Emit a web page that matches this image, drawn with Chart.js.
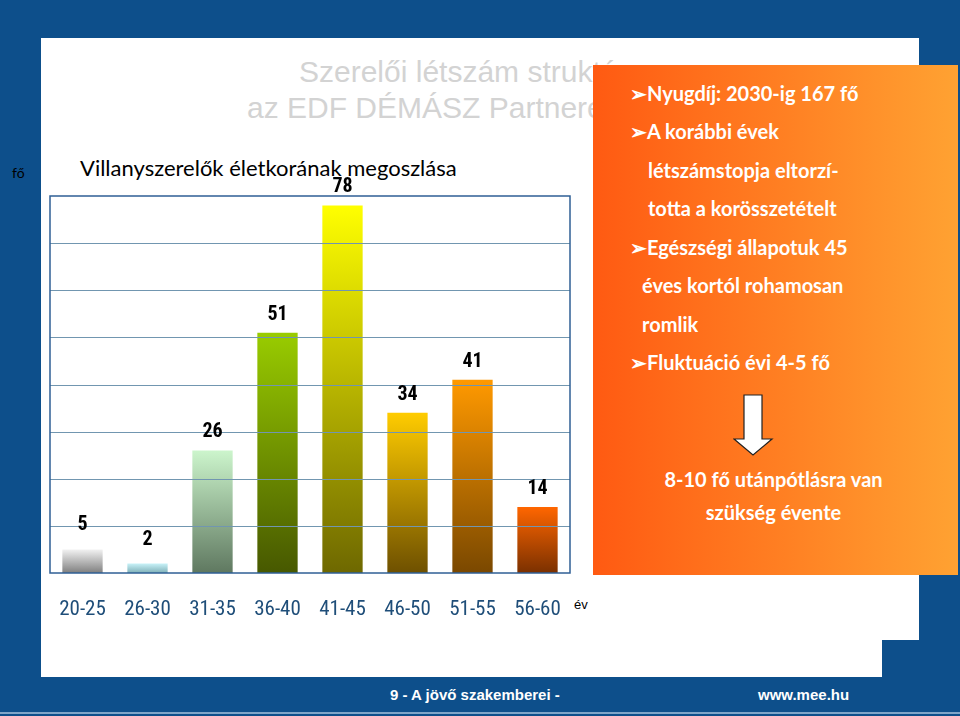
<!DOCTYPE html>
<html><head><meta charset="utf-8">
<script src="https://cdn.jsdelivr.net/npm/chart.js@4/dist/chart.umd.min.js"></script>
<style>
body{margin:0;width:960px;height:716px;position:relative;overflow:hidden;background:#0d4f8b;font-family:"Liberation Sans",Arial,sans-serif}
.abs{position:absolute}
#white1{left:41px;top:38px;width:878px;height:602px;background:#fff}
#white2{left:41px;top:600px;width:841px;height:77px;background:#fff}
.tt{position:absolute;color:#d3d3d3;font-size:30px;line-height:30px;white-space:nowrap}
#box{left:593px;top:65px;width:365px;height:510px;background:linear-gradient(to right,#ff5a12,#ffa232)}
.bl{position:absolute;color:#fff;font-family:Lato,"Open Sans",sans-serif;font-weight:bold;font-size:20px;line-height:20px;white-space:nowrap}
#foot1{left:390px;top:686px;color:#fff;font-weight:bold;font-size:15px}
#foot2{left:758px;top:686px;color:#fff;font-weight:bold;font-size:15px}
#line{left:0;top:712px;width:960px;height:2px;background:#7fa5c8}
</style></head><body>
<div id="white1" class="abs"></div><div id="white2" class="abs"></div>
<div class="tt" style="left:299px;top:57px">Szerelői létszám struktúra</div>
<div class="tt" style="left:247px;top:93px">az EDF DÉMÁSZ Partnereknél</div>
<div class="abs" style="left:12px;top:164px;font-size:14px;font-family:Lato,sans-serif">fő</div>
<div class="abs" style="left:80px;top:154px;font-size:22px;font-family:Lato,'Open Sans',sans-serif;white-space:nowrap">Villanyszerelők életkorának megoszlása</div>
<div class="abs" style="left:574px;top:597px;font-size:13px">év</div>
<div id="box" class="abs">
<div class="bl" style="left:37px;top:18px">➢Nyugdíj: 2030-ig 167 fő</div>
<div class="bl" style="left:37px;top:56px">➢A korábbi évek</div>
<div class="bl" style="left:55px;top:95px">létszámstopja eltorzí-</div>
<div class="bl" style="left:55px;top:133px">totta a korösszetételt</div>
<div class="bl" style="left:37px;top:172px">➢Egészségi állapotuk 45</div>
<div class="bl" style="left:49px;top:210px">éves kortól rohamosan</div>
<div class="bl" style="left:49px;top:249px">romlik</div>
<div class="bl" style="left:37px;top:287px">➢Fluktuáció évi 4-5 fő</div>
<svg class="abs" style="left:140px;top:328px" width="42" height="64"><path d="M11 2 H29 V46 H39 L20 62 L1 46 H11 Z" fill="#fff" stroke="#222" stroke-width="1.2"/></svg>
<div class="bl" style="width:365px;text-align:center;top:404px;left:-2px">8-10 fő utánpótlásra van</div>
<div class="bl" style="width:365px;text-align:center;top:437px;left:-2px">szükség évente</div>
</div>
<div id="foot1" class="abs">9 - A jövő szakemberei -</div>
<div id="foot2" class="abs">www.mee.hu</div>
<div id="line" class="abs"></div>
<canvas id="c" class="abs" style="left:0;top:0" width="592" height="716"></canvas>
<script>
const categories=["20-25","26-30","31-35","36-40","41-45","46-50","51-55","56-60"];
const values=[5,2,26,51,78,34,41,14];
const topColors=["#f2f2f2","#c8f2f8","#ccf5cc","#99cc00","#ffff00","#ffcc00","#ff9900","#ff6600"];
const bottomColors=["#7f7f7f","#7fb0b8","#5f7860","#475800","#6e6800","#6e5000","#7a4800","#7a3000"];
const yTicks=[0,10,20,30,40,50,60,70,80];
const cond='"Liberation Sans Narrow","Roboto Condensed","Liberation Sans",Arial,sans-serif';
const frame={id:'frame',afterDatasetsDraw(ch){const {ctx,chartArea:a}=ch;ctx.save();
 ctx.strokeStyle='#7196b0';ctx.lineWidth=1;const y=ch.scales.y;
 yTicks.slice(1,-1).forEach(v=>{const p=Math.round(y.getPixelForValue(v))+0.5;ctx.beginPath();ctx.moveTo(a.left,p);ctx.lineTo(a.right,p);ctx.stroke();});
 ctx.strokeStyle='#2f5f95';ctx.lineWidth=1.5;ctx.strokeRect(a.left,a.top,a.right-a.left,a.bottom-a.top);
 ctx.fillStyle='#000';ctx.font='bold 20px '+cond;ctx.textAlign='center';ctx.textBaseline='bottom';
 ch.getDatasetMeta(0).data.forEach((b,i)=>{ctx.fillText(values[i],b.x,b.y-(values[i]<10?14:8));});
 ctx.restore();}};
new Chart(document.getElementById('c'),{type:'bar',
 data:{labels:categories,datasets:[{data:values,barPercentage:0.62,categoryPercentage:1,
  backgroundColor(ctx){const ch=ctx.chart;if(!ch.chartArea||ctx.dataIndex===undefined)return topColors[ctx.dataIndex||0];
   const y=ch.scales.y;const t=y.getPixelForValue(values[ctx.dataIndex]);const b=y.getPixelForValue(0);
   const g=ch.ctx.createLinearGradient(0,t,0,b);g.addColorStop(0,topColors[ctx.dataIndex]);g.addColorStop(1,bottomColors[ctx.dataIndex]);return g;}}]},
 options:{responsive:false,animation:false,devicePixelRatio:1,
  layout:{padding:{left:50,right:22,top:196,bottom:0}},
  plugins:{legend:{display:false},tooltip:{enabled:false}},
  scales:{x:{grid:{display:false},border:{display:false},ticks:{color:'#1f4e79',padding:16,font:{size:21,family:cond}},afterFit(s){s.height=143;}},
   y:{min:0,max:80,display:false}}},
 plugins:[frame]});
</script></body></html>
